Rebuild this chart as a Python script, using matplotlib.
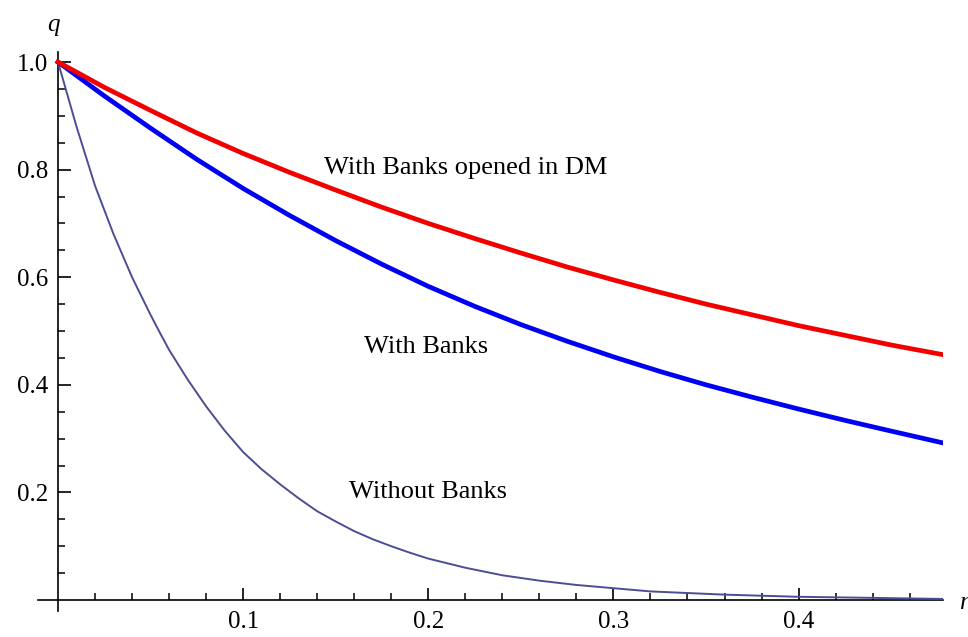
import matplotlib
matplotlib.use("Agg")
import matplotlib.pyplot as plt
import numpy as np

# Data
x_main = [0.0, 0.025, 0.05, 0.075, 0.10, 0.125, 0.15, 0.175, 0.20, 0.225, 0.25, 0.275,
          0.30, 0.325, 0.35, 0.375, 0.40, 0.425, 0.45, 0.478]
q_dm = [1.0, 0.953, 0.910, 0.868, 0.830, 0.795, 0.762, 0.730, 0.700, 0.672, 0.645, 0.619,
        0.595, 0.572, 0.550, 0.530, 0.510, 0.492, 0.474, 0.456]
q_banks = [1.0, 0.937, 0.877, 0.819, 0.765, 0.715, 0.668, 0.624, 0.583, 0.546, 0.512, 0.481,
           0.452, 0.425, 0.400, 0.377, 0.355, 0.334, 0.314, 0.292]

x_nobank = [0.0, 0.005, 0.01, 0.015, 0.02, 0.025, 0.03, 0.035, 0.04, 0.045, 0.05, 0.055,
            0.06, 0.07, 0.08, 0.09, 0.10, 0.11, 0.12, 0.13, 0.14, 0.15, 0.16, 0.17,
            0.18, 0.19, 0.20, 0.22, 0.24, 0.26, 0.28, 0.32, 0.36, 0.40, 0.44, 0.478]
q_nobank = [1.0, 0.94, 0.88, 0.825, 0.77, 0.725, 0.68, 0.64, 0.60, 0.565, 0.53, 0.497,
            0.465, 0.41, 0.36, 0.315, 0.275, 0.243, 0.215, 0.189, 0.165, 0.146, 0.128, 0.113,
            0.100, 0.088, 0.077, 0.060, 0.046, 0.036, 0.028, 0.016, 0.010, 0.006, 0.004, 0.002]

x_major = [0.1, 0.2, 0.3, 0.4]
x_labels = ["0.1", "0.2", "0.3", "0.4"]
y_major = [0.2, 0.4, 0.6, 0.8, 1.0]
y_labels = ["0.2", "0.4", "0.6", "0.8", "1.0"]

labels = ["With Banks opened in DM", "With Banks", "Without Banks"]

plt.rcParams['font.family'] = ['Liberation Serif', 'DejaVu Serif']

W, H = 968, 637
fig = plt.figure(figsize=(W / 100, H / 100), dpi=100)
ax = fig.add_axes([38 / W, 1 - 611 / H, (943 - 38) / W, (611 - 52) / H])

ax.plot(x_nobank, q_nobank, color=(0.30, 0.30, 0.58), lw=1.4, zorder=3,
        solid_joinstyle='round')
ax.plot(x_main, q_banks, color=(0.0, 0.0, 0.95), lw=3.4, zorder=4,
        solid_joinstyle='round')
ax.plot(x_main, q_dm, color=(0.95, 0.0, 0.0), lw=3.4, zorder=5,
        solid_joinstyle='round')

ax.set_xlim(-0.0108, 0.478)
ax.set_ylim(-0.0204, 1.0186)

for s in ['top', 'right']:
    ax.spines[s].set_visible(False)
ax.spines['left'].set_position(('data', 0))
ax.spines['bottom'].set_position(('data', 0))
for s in ['left', 'bottom']:
    ax.spines[s].set_linewidth(1.2)

ax.set_xticks(x_major)
ax.set_xticklabels(x_labels)
ax.set_yticks(y_major)
ax.set_yticklabels(y_labels)
ax.set_xticks(np.arange(0.02, 0.47, 0.02), minor=True)
ax.set_yticks(np.arange(0.05, 1.0, 0.05), minor=True)
ax.tick_params(which='major', direction='in', length=9, width=1.2, labelsize=18, pad=7)
ax.tick_params(which='minor', direction='in', length=5, width=1.1)
ax.tick_params(axis='x', which='major', pad=8)

ax.text(0.220, 0.803, labels[0], fontsize=19, ha='center', va='center')
ax.text(0.199, 0.470, labels[1], fontsize=19, ha='center', va='center')
ax.text(0.200, 0.201, labels[2], fontsize=19, ha='center', va='center')

fig.text(53 / W, 1 - 25 / H, "q", fontsize=18, style='italic', ha='center', va='center')
fig.text(960 / W, 1 - 603 / H, "r", fontsize=18, style='italic', ha='left', va='center')

fig.savefig("out.png", dpi=100)
